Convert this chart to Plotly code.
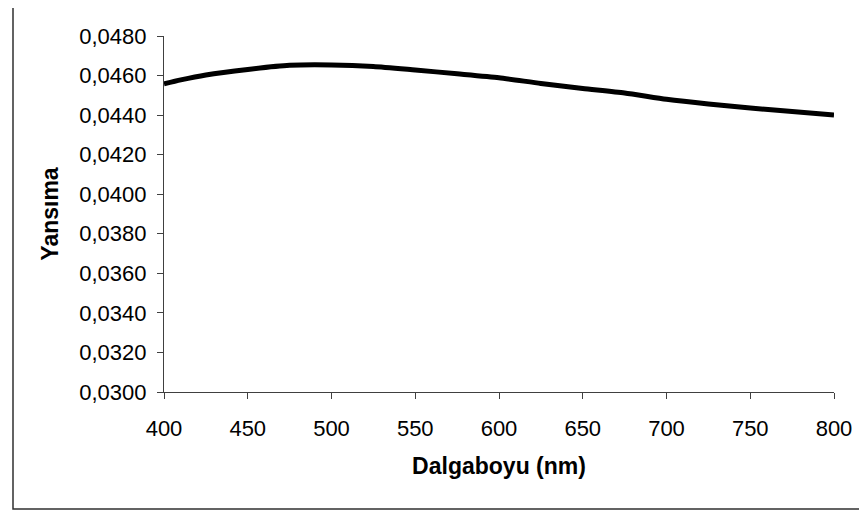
import plotly.graph_objects as go

wavelength_nm = [400, 410, 425, 450, 475, 500, 525, 550, 575, 600, 625, 650, 675, 700, 725, 750, 775, 800]
reflectance = [0.04558, 0.04578, 0.04603, 0.04631, 0.04652, 0.04654, 0.04646, 0.04628, 0.04609,
               0.04589, 0.04560, 0.04535, 0.04512, 0.04480, 0.04456, 0.04436, 0.04418, 0.04400]

y_ticks = [0.030 + 0.002 * i for i in range(10)]
y_tick_labels = ["0,0300", "0,0320", "0,0340", "0,0360", "0,0380", "0,0400",
                 "0,0420", "0,0440", "0,0460", "0,0480"]
x_ticks = [400, 450, 500, 550, 600, 650, 700, 750, 800]

FONT = "Liberation Sans, Arial, sans-serif"

# page body has an 8px default margin, so the figure is sized/offset to compensate
W, H = 859, 508
L, R, T, B = 156, 33, 28, 124
pw, ph = W - L - R, H - T - B

fig = go.Figure()
fig.add_trace(go.Scatter(
    x=wavelength_nm, y=reflectance, mode="lines",
    line=dict(color="black", width=5, shape="spline", smoothing=0.6),
    showlegend=False, hoverinfo="skip",
))

fig.update_layout(
    width=W, height=H,
    margin=dict(l=L, r=R, t=T, b=B),
    paper_bgcolor="white", plot_bgcolor="white",
    font=dict(family=FONT, size=22, color="black"),
    xaxis=dict(
        range=[400, 800], tickvals=x_ticks, ticktext=[str(v) for v in x_ticks],
        showline=True, linecolor="#404040", linewidth=1.2,
        ticks="outside", ticklen=6, tickcolor="#404040", tickwidth=1,
        ticklabelstandoff=10,
        showgrid=False, zeroline=False,
        title=dict(text="<b>Dalgaboyu (nm)</b>", font=dict(family=FONT, size=23), standoff=18),
        tickfont=dict(family=FONT, size=22),
    ),
    yaxis=dict(
        range=[0.030, 0.048], tickvals=y_ticks, ticktext=y_tick_labels,
        showline=True, linecolor="#404040", linewidth=1.2,
        ticks="outside", ticklen=6, tickcolor="#404040", tickwidth=1,
        ticklabelstandoff=6,
        showgrid=False, zeroline=False,
        title=dict(text="<b>Yansıma</b>", font=dict(family=FONT, size=23), standoff=14),
        tickfont=dict(family=FONT, size=22),
    ),
    shapes=[dict(
        type="rect", xref="paper", yref="paper",
        x0=(5 - L) / pw, x1=1.2, y0=-(501 - (T + ph)) / ph, y1=1.3,
        line=dict(color="#303030", width=1.5), fillcolor="rgba(0,0,0,0)", layer="below",
    )],
)

fig.write_html("out.html")
